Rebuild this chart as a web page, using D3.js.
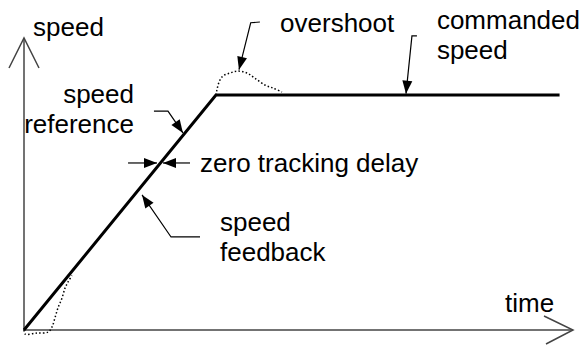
<!DOCTYPE html>
<html>
<head>
<meta charset="utf-8">
<script src="https://cdn.jsdelivr.net/npm/d3@7"></script>
<style>
  body { margin: 0; background: #fff; }
  text { font-family: "Liberation Sans", Arial, sans-serif; font-size: 26px; fill: #000; }
</style>
</head>
<body>
<svg id="chart" width="584" height="345"></svg>
<script>
// Speed profile, time in "ramp lengths", speed relative to commanded speed
const referenceProfile = [[0, 0], [1, 1], [2.79, 1]];
// Dotted feedback: lag at start of ramp
const startupLag = [[0, 0], [0.005, -0.017], [0.068, -0.013], [0.125, -0.009], [0.146, 0.013],
  [0.161, 0.051], [0.177, 0.094], [0.198, 0.136], [0.214, 0.179], [0.229, 0.204], [0.25, 0.232]];
// Dotted feedback: overshoot at top of ramp
const overshoot = [[1.0, 1.0], [1.005, 1.021], [1.016, 1.055], [1.036, 1.081], [1.073, 1.094],
  [1.115, 1.102], [1.161, 1.094], [1.203, 1.072], [1.255, 1.043], [1.297, 1.030], [1.344, 1.013]];

const axisExtent = { t: 2.86, v: 1.243 };

// Annotation texts (anchored in data units)
const labels = [
  { lines: ['speed'], t: 0.047, v: 1.252, anchor: 'start' },
  { lines: ['overshoot'], t: 1.334, v: 1.269, anchor: 'start' },
  { lines: ['commanded', 'speed'], t: 2.151, v: 1.281, anchor: 'start' },
  { lines: ['speed', 'reference'], t: 0.573, v: 0.966, anchor: 'end' },
  { lines: ['zero tracking delay'], t: 0.917, v: 0.673, anchor: 'start' },
  { lines: ['speed', 'feedback'], t: 1.021, v: 0.421, anchor: 'start' },
  { lines: ['time'], t: 2.506, v: 0.077, anchor: 'start' }
];

// Leader lines, last point is the arrow tip
const leaders = [
  [[1.229, 1.311], [1.181, 1.308], [1.120, 1.108]],
  [[2.047, 1.252], [2.021, 1.252], [1.990, 1.006]],
  [[0.677, 0.932], [0.750, 0.932], [0.828, 0.839]],
  [[0.917, 0.396], [0.766, 0.396], [0.615, 0.575]],
  [[0.542, 0.711], [0.693, 0.711]],
  [[0.865, 0.711], [0.724, 0.711]]
];

const svg = d3.select('#chart');

const x = d3.scaleLinear().domain([0, axisExtent.t]).range([24, 573]);
const y = d3.scaleLinear().domain([0, axisExtent.v]).range([330, 38]);

const line = d3.line().x(d => x(d[0])).y(d => y(d[1]));

// axes with open arrow heads
const axisG = svg.append('g')
    .attr('fill', 'none')
    .attr('stroke', '#444')
    .attr('stroke-width', 1.5);

axisG.append('path')
    .attr('d', line([[0, 0], [0, axisExtent.v]]));
axisG.append('path')
    .attr('d', `M${x(0) - 15},${y(axisExtent.v) + 30}L${x(0)},${y(axisExtent.v)}L${x(0) + 15},${y(axisExtent.v) + 30}`);

axisG.append('path')
    .attr('d', line([[0, 0], [axisExtent.t, 0]]));
axisG.append('path')
    .attr('d', `M${x(axisExtent.t) - 29},${y(0) - 14}L${x(axisExtent.t)},${y(0)}L${x(axisExtent.t) - 27},${y(0) + 14}`);

// dotted feedback curves
const dotted = d3.line().x(d => x(d[0])).y(d => y(d[1])).curve(d3.curveCatmullRom);
[startupLag, overshoot].forEach(pts => {
  svg.append('path')
      .attr('d', dotted(pts))
      .attr('fill', 'none')
      .attr('stroke', '#000')
      .attr('stroke-width', 1.5)
      .attr('stroke-dasharray', '1.5,2.2');
});

// speed reference (solid)
svg.append('path')
    .attr('d', line(referenceProfile))
    .attr('fill', 'none')
    .attr('stroke', '#000')
    .attr('stroke-width', 3)
    .attr('stroke-linejoin', 'miter');

// leader lines with filled arrow heads
function arrowHead(from, tip, len = 13, half = 5) {
  const dx = tip[0] - from[0], dy = tip[1] - from[1];
  const n = Math.hypot(dx, dy);
  const ux = dx / n, uy = dy / n;
  const bx = tip[0] - ux * len, by = tip[1] - uy * len;
  return `M${tip[0]},${tip[1]}L${bx - uy * half},${by + ux * half}L${bx + uy * half},${by - ux * half}Z`;
}

leaders.forEach(pts => {
  const px = pts.map(d => [x(d[0]), y(d[1])]);
  svg.append('path')
      .attr('d', d3.line()(px))
      .attr('fill', 'none')
      .attr('stroke', '#000')
      .attr('stroke-width', 1.2);
  svg.append('path')
      .attr('d', arrowHead(px[px.length - 2], px[px.length - 1]))
      .attr('fill', '#000');
});

// labels
labels.forEach(l => {
  const t = svg.append('text')
      .attr('x', x(l.t))
      .attr('y', y(l.v))
      .attr('text-anchor', l.anchor);
  l.lines.forEach((s, i) => {
    t.append('tspan')
        .attr('x', x(l.t))
        .attr('dy', i === 0 ? 0 : 29.5)
        .text(s);
  });
});
</script>
</body>
</html>
